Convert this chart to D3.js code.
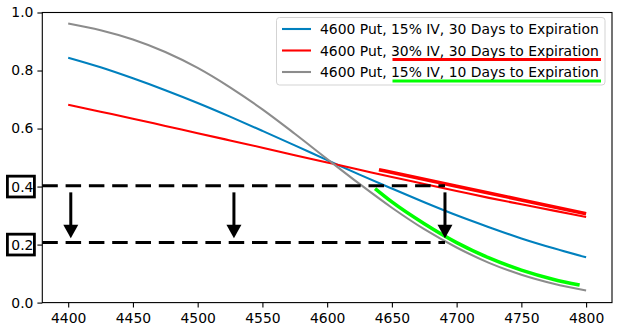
<!DOCTYPE html>
<html><head><meta charset="utf-8">
<script src="https://cdn.jsdelivr.net/npm/d3@7"></script>
<style>
html,body{margin:0;padding:0;background:#fff;}
svg{display:block;font-family:"DejaVu Sans",sans-serif;}
</style></head>
<body><svg id="c" width="627" height="333"></svg>
<script>
// ---- data ----
const prices = [4400,4425,4450,4475,4500,4525,4550,4575,4600,4625,4650,4675,4700,4725,4750,4775,4800];
const delta15iv30d = [0.844,0.811,0.773,0.732,0.688,0.641,0.592,0.542,0.491,0.441,0.393,0.346,0.301,0.260,0.221,0.187,0.156];
const delta30iv30d = [0.682,0.658,0.634,0.609,0.584,0.559,0.534,0.508,0.483,0.458,0.433,0.409,0.385,0.361,0.339,0.317,0.295];
const delta15iv10d = [0.962,0.939,0.907,0.864,0.809,0.742,0.666,0.582,0.495,0.409,0.327,0.253,0.190,0.137,0.096,0.065,0.042];
const redHiX = [4640,4700,4750,4800];
const redHiY = [0.458,0.401,0.354,0.306];
const greenHiX = [4637,4650,4675,4700,4725,4750,4775,4795];
const greenHiY = [0.393,0.347,0.272,0.207,0.154,0.112,0.080,0.061];
const dashLevels = [0.403,0.207];
const dashEnd = 4691;
const arrowXs = [4402,4528,4691];
const arrowTop = 0.38, arrowTip = 0.222;
const xTicks = [4400,4450,4500,4550,4600,4650,4700,4750,4800];
const yTicks = [0.0,0.2,0.4,0.6,0.8,1.0];
const boxedTicks = [0.4,0.2];
const seriesLabels = ["4600 Put, 15% IV, 30 Days to Expiration","4600 Put, 30% IV, 30 Days to Expiration","4600 Put, 15% IV, 10 Days to Expiration"];
const seriesColors = ["#0080be","#ff0000","#8c8c8c"];

// ---- drawing ----
const svg = d3.select("#c");
const L=42.3,R=612,T=12.5,B=302.6;
const x = d3.scaleLinear().domain([4380,4820]).range([L,R]);
const y = d3.scaleLinear().domain([0,1]).range([B,T]);
const FS = "13.9px";

svg.append("rect").attr("width",627).attr("height",333).attr("fill","#fff");

const line = d3.line().x(d=>x(d[0])).y(d=>y(d[1])).curve(d3.curveMonotoneX);
const series = [delta15iv30d,delta30iv30d,delta15iv10d];
const g = svg.append("g");
series.forEach((s,i)=>{
  g.append("path").attr("d",line(prices.map((p,j)=>[p,s[j]])))
   .attr("fill","none").attr("stroke",seriesColors[i]).attr("stroke-width",2.1);
});
// highlights
g.append("path").attr("d",line(redHiX.map((p,j)=>[p,redHiY[j]])))
 .attr("fill","none").attr("stroke","#ff0000").attr("stroke-width",3.6);
g.append("path").attr("d",line(greenHiX.map((p,j)=>[p,greenHiY[j]])))
 .attr("fill","none").attr("stroke","#00ff00").attr("stroke-width",3.6);

// dashed levels
dashLevels.forEach(v=>{
  g.append("line").attr("x1",L).attr("x2",x(dashEnd)).attr("y1",y(v)).attr("y2",y(v))
   .attr("stroke","#000").attr("stroke-width",3).attr("stroke-dasharray","15.5,7.8");
});
// arrows
arrowXs.forEach(a=>{
  const cx=x(a), y0=y(arrowTop), y1=y(arrowTip), hl=13.5, hw=7.5;
  g.append("line").attr("x1",cx).attr("x2",cx).attr("y1",y0).attr("y2",y1-hl+1)
   .attr("stroke","#000").attr("stroke-width",3);
  g.append("path").attr("d",`M${cx-hw},${y1-hl}L${cx+hw},${y1-hl}L${cx},${y1}Z`).attr("fill","#000");
});

// axes
const xa = svg.append("g").attr("transform",`translate(0,${B})`)
  .call(d3.axisBottom(x).tickValues(xTicks).tickSize(4.9).tickPadding(5.8).tickSizeOuter(0).tickFormat(d3.format("d")));
const ya = svg.append("g").attr("transform",`translate(${L},0)`)
  .call(d3.axisLeft(y).tickValues(yTicks).tickSize(4.9).tickPadding(4).tickSizeOuter(0).tickFormat(d3.format(".1f")));
[xa,ya].forEach(a=>{
  a.select(".domain").remove();
  a.selectAll("text").attr("font-size",FS).attr("font-family","DejaVu Sans").attr("fill","#000");
  a.selectAll("line").attr("stroke","#000").attr("stroke-width",1.1);
});
svg.append("rect").attr("x",L).attr("y",T).attr("width",R-L).attr("height",B-T)
  .attr("fill","none").attr("stroke","#000").attr("stroke-width",1.1);

// boxes around tick labels
boxedTicks.forEach(v=>{
  svg.append("rect").attr("x",7.4).attr("y",y(v)-10.4).attr("width",27).attr("height",20.8)
    .attr("fill","none").attr("stroke","#000").attr("stroke-width",2.8);
});

// legend
const lg = svg.append("g");
lg.append("rect").attr("x",276.5).attr("y",17.5).attr("width",328.5).attr("height",67.5).attr("rx",3)
  .attr("fill","#fff").attr("fill-opacity",0.8).attr("stroke","#d3d3d3").attr("stroke-width",1);
const rowY=[29,50.5,72];
seriesLabels.forEach((t,i)=>{
  lg.append("line").attr("x1",282).attr("x2",311).attr("y1",rowY[i]).attr("y2",rowY[i])
    .attr("stroke",seriesColors[i]).attr("stroke-width",2.1);
  lg.append("text").attr("x",320).attr("y",rowY[i]).attr("dy","0.36em").attr("font-size",FS).text(t);
});
lg.append("line").attr("x1",392.5).attr("x2",601).attr("y1",59.5).attr("y2",59.5).attr("stroke","#ff0000").attr("stroke-width",3);
lg.append("line").attr("x1",392.5).attr("x2",601).attr("y1",81).attr("y2",81).attr("stroke","#00ff00").attr("stroke-width",3);
</script></body></html>
